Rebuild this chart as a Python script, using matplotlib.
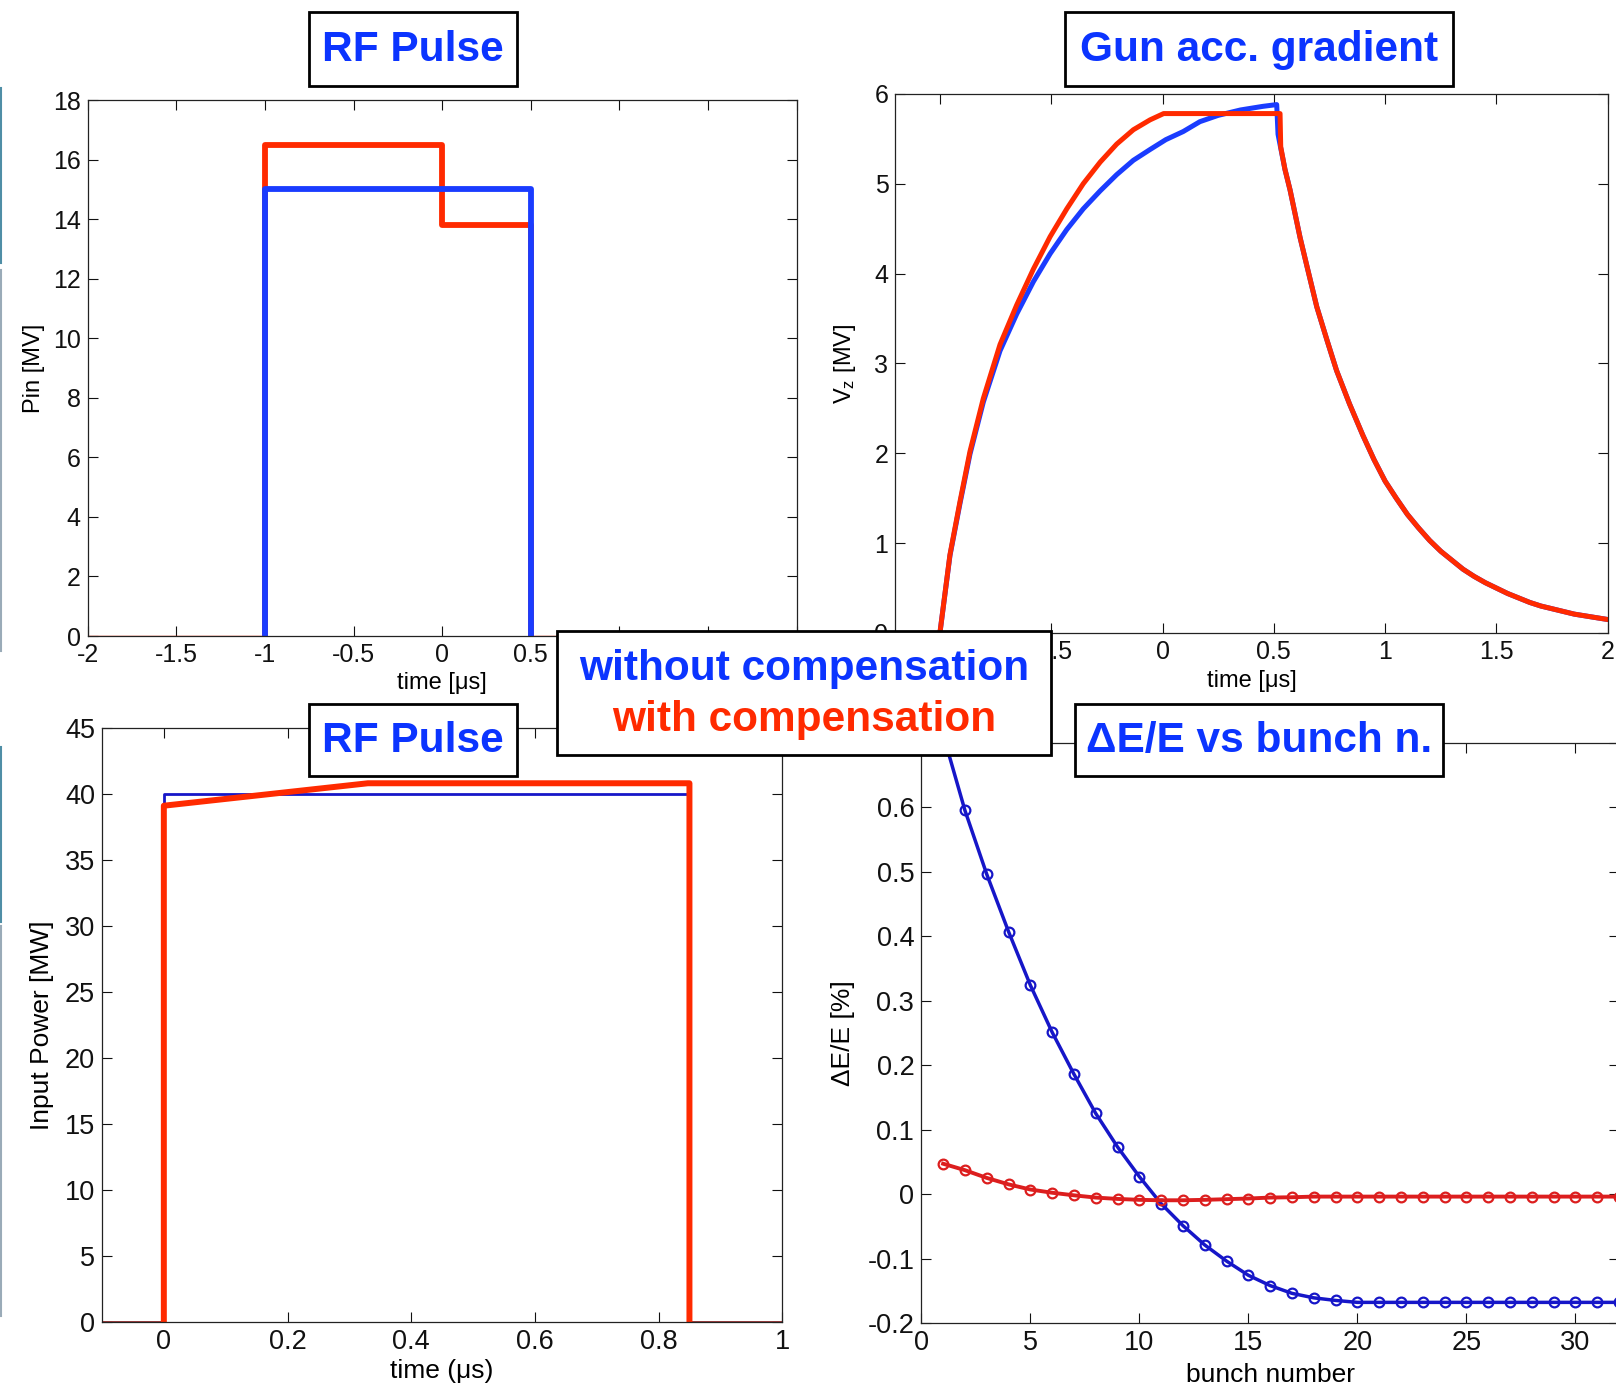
import matplotlib
matplotlib.use('Agg')
import matplotlib.pyplot as plt
from matplotlib.patches import Rectangle
from matplotlib.lines import Line2D
from matplotlib.ticker import FuncFormatter

plt.rcParams['font.family'] = ['Liberation Sans', 'DejaVu Sans']
plt.rcParams['axes.unicode_minus'] = False
plt.rcParams['mathtext.default'] = 'regular'

# --- RF pulse (top left), Pin [MV] vs time [us]
rf_t = [-2, -1, -1, 0, 0, 0.5, 0.5, 2]
rf_blue = [0, 0, 15, 15, 15, 15, 0, 0]
rf_red = [0, 0, 16.5, 16.5, 13.8, 13.8, 0, 0]

# --- gun accelerating gradient (top right), Vz [MV] vs time [us]
gun_t_blue = [-1.0, -0.955, -0.91, -0.865, -0.805, -0.73, -0.655, -0.58, -0.505, -0.43,
              -0.356, -0.28, -0.206, -0.131, -0.056, 0.015, 0.093, 0.168, 0.25, 0.35,
              0.45, 0.513, 0.519, 0.53, 0.55, 0.573, 0.618, 0.65, 0.693, 0.74,
              0.782, 0.84, 0.9, 0.95, 1.0, 1.05, 1.1, 1.15, 1.2, 1.25,
              1.3, 1.35, 1.4, 1.45, 1.5, 1.55, 1.6, 1.65, 1.7, 1.75,
              1.8, 1.85, 1.9, 1.95, 2.0]
gun_v_blue = [0, 0.86, 1.44, 1.99, 2.57, 3.14, 3.55, 3.91, 4.22, 4.49,
              4.72, 4.92, 5.10, 5.26, 5.38, 5.49, 5.58, 5.69, 5.76, 5.82,
              5.86, 5.88, 5.55, 5.41, 5.16, 4.93, 4.40, 4.07, 3.63, 3.25,
              2.92, 2.55, 2.20, 1.93, 1.69, 1.50, 1.32, 1.17, 1.03, 0.91,
              0.81, 0.71, 0.63, 0.56, 0.50, 0.44, 0.39, 0.34, 0.30, 0.27,
              0.24, 0.21, 0.19, 0.17, 0.15]
gun_t_red = [-1.0, -0.955, -0.91, -0.865, -0.805, -0.73, -0.655, -0.58, -0.505, -0.43,
             -0.356, -0.28, -0.206, -0.131, -0.056, 0.005, 0.528, 0.531, 0.55, 0.573,
             0.618, 0.65, 0.693, 0.74, 0.782, 0.84, 0.9, 0.95, 1.0, 1.05,
             1.1, 1.15, 1.2, 1.25, 1.3, 1.35, 1.4, 1.45, 1.5, 1.55,
             1.6, 1.65, 1.7, 1.75, 1.8, 1.85, 1.9, 1.95, 2.0]
gun_v_red = [0, 0.87, 1.46, 2.02, 2.61, 3.21, 3.65, 4.05, 4.41, 4.72,
             5.00, 5.24, 5.44, 5.60, 5.71, 5.78, 5.78, 5.41, 5.16, 4.93,
             4.40, 4.07, 3.63, 3.25, 2.92, 2.55, 2.20, 1.93, 1.69, 1.50,
             1.32, 1.17, 1.03, 0.91, 0.81, 0.71, 0.63, 0.56, 0.50, 0.44,
             0.39, 0.34, 0.30, 0.27, 0.24, 0.21, 0.19, 0.17, 0.15]

# --- RF pulse (bottom left), input power [MW] vs time [us]
pw_t_blue = [-0.1, 0, 0, 0.85, 0.85, 1.0]
pw_blue = [0, 0, 40, 40, 0, 0]
pw_t_red = [-0.1, 0, 0, 0.33, 0.85, 0.85, 1.0]
pw_red = [0, 0, 39.1, 40.8, 40.8, 0, 0]

# --- energy spread vs bunch number (bottom right)
bunch = list(range(1, 33))
de_blue = [0.713, 0.595, 0.496, 0.407, 0.324, 0.251, 0.186, 0.125, 0.073, 0.027,
           -0.015, -0.049, -0.079, -0.104, -0.126, -0.142, -0.154, -0.161, -0.165, -0.168,
           -0.168, -0.168, -0.168, -0.168, -0.168, -0.168, -0.168, -0.168, -0.168, -0.168,
           -0.168, -0.168]
de_red = [0.047, 0.037, 0.025, 0.015, 0.007, 0.002, -0.002, -0.0055, -0.0076, -0.009,
          -0.0097, -0.0097, -0.009, -0.008, -0.007, -0.0055, -0.005, -0.004, -0.004, -0.004,
          -0.004, -0.004, -0.004, -0.004, -0.004, -0.004, -0.004, -0.004, -0.004, -0.004,
          -0.004, -0.004]

BLUE = '#1a3cff'
RED = '#ff2a00'
DBLUE = '#1616c8'
DRED = '#dc1e1e'
TBLUE = '#0b34ff'

W, H = 1616, 1389


def frac(x0, y0, x1, y1):
    return [x0 / W, 1 - y1 / H, (x1 - x0) / W, (y1 - y0) / H]


def style(ax, size):
    ax.tick_params(direction='in', top=True, right=True, length=7, width=0.8,
                   labelsize=size, pad=5, colors='#111111')
    for s in ax.spines.values():
        s.set_linewidth(0.9)
        s.set_color('#222222')
    ax.xaxis.set_major_formatter(FuncFormatter(lambda v, _: f'{v:g}'))
    ax.yaxis.set_major_formatter(FuncFormatter(lambda v, _: f'{round(v, 6):g}'))


fig = plt.figure(figsize=(W / 100, H / 100), dpi=100)

# top left
ax1 = fig.add_axes(frac(87.6, 100, 796.7, 636))
ax1.plot(rf_t, rf_red, color=RED, lw=1)
ax1.plot(rf_t[1:7], rf_red[1:7], color=RED, lw=4.2)
ax1.plot(rf_t[1:7], rf_blue[1:7], color=BLUE, lw=4.2)
ax1.set_xlim(-2, 2)
ax1.set_ylim(0, 18)
ax1.set_xticks([-2, -1.5, -1, -0.5, 0, 0.5, 1, 1.5, 2])
ax1.set_yticks(range(0, 19, 2))
style(ax1, 18)
ax1.set_xlabel('time [μs]', fontsize=17, labelpad=4)
ax1.set_ylabel('Pin [MV]', fontsize=17, va='center')
ax1.yaxis.set_label_coords(-0.0756, 0.5)

# top right
ax2 = fig.add_axes(frac(895.4, 93.8, 1607.7, 633))
ax2.plot(gun_t_blue, gun_v_blue, color=BLUE, lw=3.6)
ax2.plot(gun_t_red, gun_v_red, color=RED, lw=3.6)
ax2.set_xlim(-1.2, 2)
ax2.set_ylim(0, 6)
ax2.set_xticks([-1, -0.5, 0, 0.5, 1, 1.5, 2])
ax2.set_yticks(range(0, 7))
style(ax2, 18)
ax2.set_xlabel('time [μs]', fontsize=17, labelpad=4)
ax2.set_ylabel('V$_z$ [MV]', fontsize=17, va='center')
ax2.yaxis.set_label_coords(-0.0708, 0.5)

# bottom left
ax3 = fig.add_axes(frac(102, 727.8, 782.2, 1322))
ax3.plot(pw_t_red, pw_red, color='#8b1a1a', lw=1.2)
ax3.plot(pw_t_blue[1:5], pw_blue[1:5], color=DBLUE, lw=2)
ax3.plot(pw_t_red[1:6], pw_red[1:6], color=RED, lw=4.3)
ax3.set_xlim(-0.1, 1)
ax3.set_ylim(0, 45)
ax3.set_xticks([0, 0.2, 0.4, 0.6, 0.8, 1])
ax3.set_yticks(range(0, 46, 5))
style(ax3, 19.5)
ax3.set_xlabel('time (μs)', fontsize=19, labelpad=3)
ax3.set_ylabel('Input Power [MW]', fontsize=19, va='center')
ax3.yaxis.set_label_coords(-0.0885, 0.5)

# bottom right
ax4 = fig.add_axes(frac(921.3, 742.6, 1619, 1323))
ax4.plot(bunch, de_blue, color=DBLUE, lw=2.5, marker='o', ms=7, mfc='none', mew=1.6)
ax4.plot(bunch, de_red, color=DRED, lw=2.8, marker='o', ms=7, mfc='none', mew=1.6)
ax4.set_xlim(0, 32)
ax4.set_ylim(-0.2, 0.7)
ax4.set_xticks([0, 5, 10, 15, 20, 25, 30])
ax4.set_yticks([-0.2, -0.1, 0, 0.1, 0.2, 0.3, 0.4, 0.5, 0.6, 0.7])
style(ax4, 19.5)
ax4.set_xlabel('bunch number', fontsize=19, labelpad=5)
ax4.set_ylabel('ΔE/E [%]', fontsize=19, va='center')
ax4.yaxis.set_label_coords(-0.112, 0.5)


def box(x0, y0, x1, y1, lines, colors, ys, size):
    r = Rectangle((x0 / W, 1 - y1 / H), (x1 - x0) / W, (y1 - y0) / H,
                  transform=fig.transFigure, facecolor='white', edgecolor='black',
                  lw=2, zorder=10)
    fig.add_artist(r)
    for txt, c, y in zip(lines, colors, ys):
        fig.text((x0 + x1) / 2 / W, 1 - y / H, txt, color=c, fontsize=size,
                 fontweight='bold', ha='center', va='center', zorder=11)


box(309, 12, 517, 86, ['RF Pulse'], [TBLUE], [50], 30.5)
box(1065, 12, 1453, 86, ['Gun acc. gradient'], [TBLUE], [50], 30.5)
box(309, 704, 517, 776, ['RF Pulse'], [TBLUE], [741], 30.5)
box(1075, 704, 1443, 776, ['ΔE/E vs bunch n.'], [TBLUE], [741], 30.5)
box(557, 631, 1051, 755, ['without compensation', 'with compensation'],
    [TBLUE, RED], [669, 720], 30.5)

# slide-edge remnants at the far left
for (ya, yb, c) in [(88, 263, '#4f8ea6'), (270, 651, '#9aabb8'),
                    (747, 922, '#4f8ea6'), (926, 1316, '#9aabb8')]:
    fig.add_artist(Line2D([0.0006, 0.0006], [1 - ya / H, 1 - yb / H],
                          transform=fig.transFigure, color=c, lw=1.5))

fig.savefig('out.png', dpi=100)
